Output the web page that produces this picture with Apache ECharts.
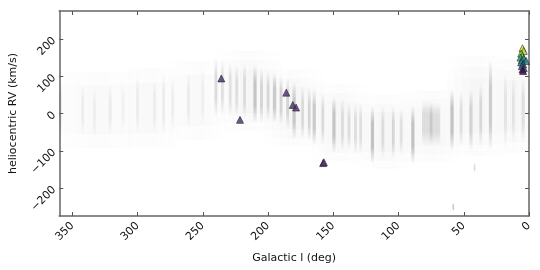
<!DOCTYPE html>
<html><head><meta charset="utf-8">
<script src="https://cdn.jsdelivr.net/npm/echarts@6/dist/echarts.min.js"></script>
<style>html,body{margin:0;padding:0;background:#fff}#c{width:540px;height:270px}</style>
</head><body><div id="c"></div>
<script>
// Background survey density stripes (Galactic l, RV low, RV high, relative density, l-span deg)
var stripeL       = [359, 342, 333, 321, 311, 300, 287, 280, 273, 261, 250, 240, 235, 229, 224, 218, 210, 205, 200, 195, 190, 185, 180, 173.5, 168.4, 164.6, 158, 149.5, 143, 138, 133, 129, 120, 112, 104, 98, 89, 78, 72, 59, 52, 44.5, 37, 29.5, 18, 12, 4.5, 58, 41.7];
var stripeLo      = [-60, -60, -70, -60, -50, -50, -50, -60, -50, -40, -30, -10, -5, -10, -10, -15, -25, -25, -20, -25, -30, -40, -70, -70, -75, -85, -85, -105, -100, -100, -110, -110, -135, -120, -120, -110, -135, -85, -85, -100, -90, -100, -90, -100, -90, -80, -80, -262, -158];
var stripeHi      = [90, 80, 70, 80, 80, 100, 90, 110, 100, 110, 120, 150, 145, 140, 130, 135, 130, 120, 115, 110, 100, 95, 85, 75, 70, 65, 55, 45, 40, 30, 30, 30, 20, 20, 20, 15, 20, 35, 30, 65, 60, 65, 80, 145, 110, 100, 100, -240, -132];
var stripeDensity = [0.08, 0.07, 0.06, 0.08, 0.05, 0.07, 0.07, 0.08, 0.07, 0.08, 0.06, 0.17, 0.15, 0.14, 0.14, 0.15, 0.28, 0.2, 0.19, 0.26, 0.2, 0.19, 0.26, 0.17, 0.2, 0.26, 0.17, 0.28, 0.15, 0.15, 0.15, 0.14, 0.3, 0.15, 0.19, 0.14, 0.3, 0.14, 0.14, 0.3, 0.15, 0.2, 0.17, 0.25, 0.1, 0.1, 0.14, 0.3, 0.2];
var stripeSpan    = [2.5, 2.2, 2.2, 2.2, 2.2, 2.2, 2.2, 2.2, 2.2, 2.2, 2.2, 2.2, 2.2, 2.2, 2.2, 2.2, 2.5, 2.2, 2.2, 2.5, 2.2, 2.2, 2.5, 2.2, 2.2, 2.5, 2.2, 2.5, 2.2, 2.2, 2.2, 2.2, 2.5, 2.2, 2.2, 2.2, 2.5, 8, 8, 2.5, 2.2, 2.5, 2.2, 2.5, 2.2, 2.2, 2.5, 1.2, 1.2];
// Diffuse halo of the survey (l center, RV low, RV high, density, l-span)
var haloL       = [330, 290, 255, 215, 180, 145, 110, 75, 40, 12];
var haloLo      = [-110, -110, -90, -60, -100, -140, -160, -140, -130, -120];
var haloHi      = [130, 140, 160, 180, 130, 90, 60, 70, 170, 160];
var haloDensity = [0.03, 0.03, 0.035, 0.045, 0.045, 0.04, 0.04, 0.045, 0.04, 0.04];
var haloSpan    = [70, 46, 44, 50, 46, 44, 46, 46, 46, 30];

// Individual objects (triangles)
var objL  = [235.8, 221.5, 186, 181, 178.5, 157.8, 157.2];
var objRV = [94, -17, 56, 23, 16, -133, -131];

// Cluster near l ~ 5 (colour by value)
var clL   = [5, 4, 6, 5, 6.5, 4, 5.5, 2.2, 6, 4.5, 5.5, 4, 5, 4.5];
var clRV  = [175, 168, 161, 155, 150, 147, 143, 141, 137, 132, 127, 122, 118, 114];
var clVal = [0.97, 0.9, 0.85, 0.75, 0.65, 0.6, 0.5, 0.45, 0.45, 0.35, 0.28, 0.2, 0.1, 0.03];

var xTicks = [0, 50, 100, 150, 200, 250, 300, 350];
var yTicks = [-200, -100, 0, 100, 200];

function zip5(a,b,c,d,e){return a.map(function(v,i){return [v,b[i],c[i],d[i],e[i]];});}
function grad(a){
  var c = 'rgba(70,70,70,';
  return new echarts.graphic.LinearGradient(0,0,0,1,[
    {offset:0, color:c+'0)'},{offset:0.3, color:c+a+')'},{offset:0.7, color:c+a+')'},{offset:1, color:c+'0)'}]);
}
function rectFor(api, l, lo, hi, w, a){
  var p1 = api.coord([l + w/2, hi]), p2 = api.coord([l - w/2, lo]);
  var x = Math.min(p1[0], p2[0]), width = Math.max(1, Math.abs(p2[0]-p1[0]));
  var y = Math.min(p1[1], p2[1]), height = Math.abs(p2[1]-p1[1]);
  return {type:'rect', shape:{x:x, y:y, width:width, height:height}, style:{fill:grad(a)}};
}
function stripeRender(params, api){
  return rectFor(api, api.value(0), api.value(1), api.value(2), api.value(4), api.value(3));
}
function haloRender(params, api){
  var l = api.value(0), lo = api.value(1), hi = api.value(2), a = api.value(3), w = api.value(4);
  var kids = [];
  for (var k = 1; k <= 4; k++) kids.push(rectFor(api, l, lo, hi, w * k / 4, a / 4));
  return {type:'group', children:kids};
}
var font = {fontFamily:'DejaVu Sans', fontSize:11, color:'#111'};
function fmt(v){return v<0 ? '\u2212'+Math.abs(v) : String(v);}
var lineStyle = {color:'#666', width:1.5};
var tick = {color:'#555', width:1};
var chart = echarts.init(document.getElementById('c'), null, {renderer:'canvas'});
chart.setOption({
  animation:false,
  grid:{left:54, right:11, top:11, bottom:54},
  xAxis:[{type:'value', min:0, max:360, inverse:true, position:'bottom',
      name:'Galactic l (deg)', nameLocation:'middle', nameGap:37, nameTextStyle:font,
      axisLine:{onZero:false, lineStyle:lineStyle}, splitLine:{show:false},
      axisTick:{inside:true, length:4, lineStyle:tick, customValues:xTicks},
      axisLabel:Object.assign({rotate:45, margin:8, customValues:xTicks, formatter:fmt}, font)},
    {type:'value', min:0, max:360, inverse:true, position:'top',
      axisLine:{onZero:false, lineStyle:lineStyle}, splitLine:{show:false},
      axisTick:{inside:true, length:4, lineStyle:tick, customValues:xTicks},
      axisLabel:{show:false}}],
  yAxis:[{type:'value', min:-275, max:275, position:'left',
      name:'heliocentric RV (km/s)', nameLocation:'middle', nameGap:36, nameRotate:90, nameTextStyle:font,
      axisLine:{show:true, onZero:false, lineStyle:lineStyle}, splitLine:{show:false},
      axisTick:{show:true, inside:true, length:4, lineStyle:tick, customValues:yTicks},
      axisLabel:Object.assign({rotate:45, margin:5, customValues:yTicks, formatter:fmt}, font)},
    {type:'value', min:-275, max:275, position:'right',
      axisLine:{show:true, onZero:false, lineStyle:lineStyle}, splitLine:{show:false},
      axisTick:{show:true, inside:true, length:4, lineStyle:tick, customValues:yTicks},
      axisLabel:{show:false}}],
  visualMap:{show:false, seriesIndex:3, dimension:2, min:0, max:1,
    inRange:{color:['#440154','#482878','#3e4989','#31688e','#26828e','#1f9e89','#35b779','#6ece58','#b5de2b','#fde725']}},
  series:[
    {type:'custom', renderItem:haloRender, clip:true, data:zip5(haloL, haloLo, haloHi, haloDensity, haloSpan), silent:true},
    {type:'custom', renderItem:stripeRender, clip:true, data:zip5(stripeL, stripeLo, stripeHi, stripeDensity, stripeSpan), silent:true},
    {type:'scatter', symbol:'triangle', symbolSize:7, data:objL.map(function(v,i){return [v, objRV[i]];}),
      itemStyle:{color:'#4e2d72', borderColor:'#1a1a1a', borderWidth:0.7}},
    {type:'scatter', symbol:'triangle', symbolSize:7, data:clL.map(function(v,i){return [v, clRV[i], clVal[i]];}),
      itemStyle:{borderColor:'#1a1a1a', borderWidth:0.7}}
  ]
});
</script></body></html>
